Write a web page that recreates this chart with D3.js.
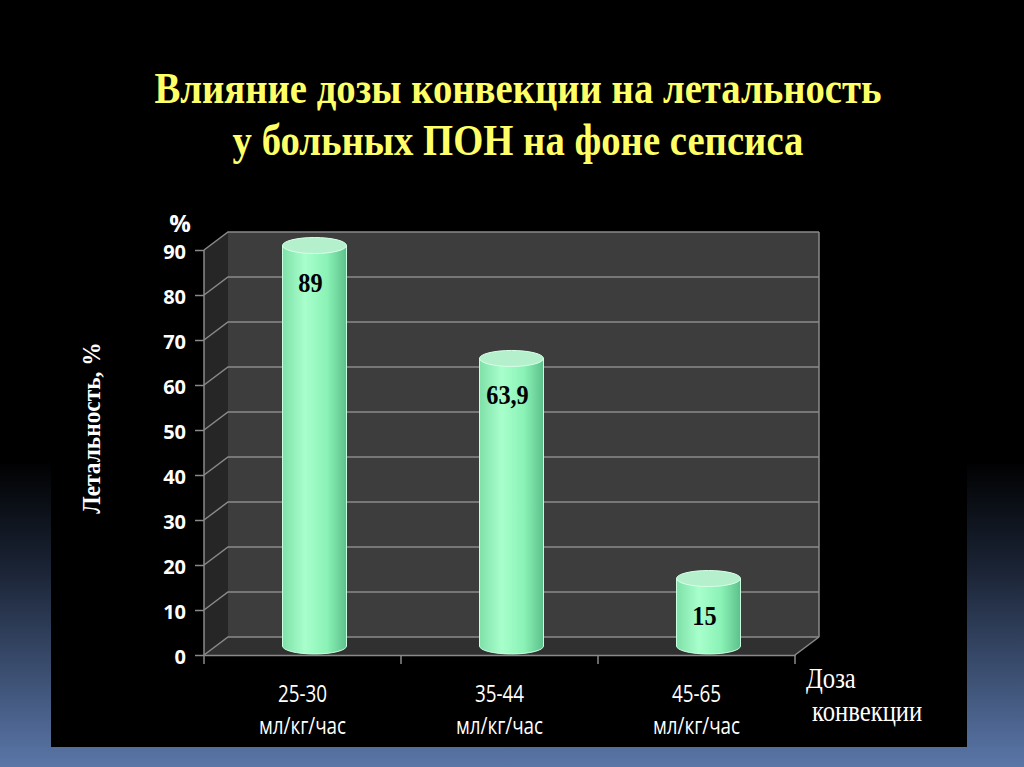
<!DOCTYPE html><html><head><meta charset="utf-8"><script src="https://d3js.org/d3.v7.min.js"></script>
<style>body{margin:0;background:#000}</style></head><body><script>
const categories=[["25-30","мл/кг/час"],["35-44","мл/кг/час"],["45-65","мл/кг/час"]];
const values=[89,63.9,15];
const valueLabels=["89","63,9","15"];
const ticks=[0,10,20,30,40,50,60,70,80,90];
const W=1024,H=767;
const svg=d3.select("body").append("svg").attr("width",W).attr("height",H);
const defs=svg.append("defs");
const bg=defs.append("linearGradient").attr("id","bg").attr("x1",0).attr("y1",0).attr("x2",0).attr("y2",1);
[[0,"#000"],[0.6,"#000"],[0.75,"#1c2638"],[1,"#5a76a8"]].forEach(s=>bg.append("stop").attr("offset",s[0]).attr("stop-color",s[1]));
const cg=defs.append("linearGradient").attr("id","cyl");
[[0,"#7fe0a8"],[0.35,"#a8ffcc"],[0.7,"#8af2b6"],[1,"#5cc08a"]].forEach(s=>cg.append("stop").attr("offset",s[0]).attr("stop-color",s[1]));
svg.append("rect").attr("width",W).attr("height",H).attr("fill","url(#bg)");
svg.append("rect").attr("x",51).attr("y",0).attr("width",916).attr("height",747).attr("fill","#000");
// condensed text helper: scales horizontally around anchor
function ctext(x0,y0,str,size,family,weight,fill,sx,anchor){
  return svg.append("text").attr("transform",`translate(${x0},${y0}) scale(${sx},1)`).attr("text-anchor",anchor||"middle")
    .attr("font-family",family).attr("font-weight",weight).attr("font-size",size).attr("fill",fill).text(str);
}
const dx=24,dy=-18;
const y=d3.scaleLinear().domain([0,90]).range([655,250]);
const x=d3.scaleBand().domain(d3.range(3)).range([204,795]);
const x0=204,x1=795;
svg.append("polygon").attr("points",[[x0+dx,y(0)+dy],[x1+dx,y(0)+dy],[x1+dx,y(90)+dy],[x0+dx,y(90)+dy]].join(" ")).attr("fill","#3d3d3d");
svg.append("polygon").attr("points",[[x0,y(0)],[x0+dx,y(0)+dy],[x0+dx,y(90)+dy],[x0,y(90)]].join(" ")).attr("fill","#262626");
svg.append("polygon").attr("points",[[x0,y(0)],[x1,y(0)],[x1+dx,y(0)+dy],[x0+dx,y(0)+dy]].join(" ")).attr("fill","#303030");
const g=svg.append("g").attr("stroke","#8a8a8a").attr("stroke-width",1.5).attr("fill","none");
ticks.forEach(t=>g.append("polyline").attr("points",[[x0,y(t)],[x0+dx,y(t)+dy],[x1+dx,y(t)+dy]].join(" ")));
g.append("line").attr("x1",x0).attr("x2",x0).attr("y1",y(0)).attr("y2",y(90));
g.append("line").attr("x1",x1).attr("x2",x1+dx).attr("y1",y(0)).attr("y2",y(0)+dy);
g.append("line").attr("x1",x1+dx).attr("x2",x1+dx).attr("y1",y(0)+dy).attr("y2",y(90)+dy);
const ax=svg.append("g").attr("transform",`translate(${x0},0)`).call(d3.axisLeft(y).tickValues(ticks).tickSize(9).tickPadding(9));
ax.select(".domain").remove();
ax.selectAll("line").attr("stroke","#8a8a8a").attr("stroke-width",1.5);
ax.selectAll("text").attr("fill","#fff").attr("font-family","'Open Sans',sans-serif").attr("font-weight","bold").attr("font-size",20).attr("dy","0.4em");
const bx=svg.append("g").attr("transform",`translate(0,${y(0)})`).call(d3.axisBottom(x).tickValues([]).tickSize(0));
bx.select(".domain").attr("stroke","#8a8a8a").attr("stroke-width",1.5);
[0,1,2,3].forEach(i=>svg.append("line").attr("x1",x0+i*x.step()).attr("x2",x0+i*x.step()).attr("y1",y(0)).attr("y2",y(0)+9).attr("stroke","#8a8a8a").attr("stroke-width",1.5));
const ym=d3.scaleLinear().domain([0,90]).range([y(0)+dy/2,y(90)+dy/2]);
const bw=64,ry=8;
values.forEach((v,i)=>{
  const cx=x(i)+x.bandwidth()/2+dx/2, l=cx-bw/2, top=ym(v), bot=ym(0);
  svg.append("path").attr("d",`M${l},${top}L${l},${bot}A${bw/2},${ry} 0 0 0 ${l+bw},${bot}L${l+bw},${top}Z`).attr("fill","url(#cyl)").attr("stroke","#c8ffe0").attr("stroke-width",1);
  svg.append("ellipse").attr("cx",cx).attr("cy",top).attr("rx",bw/2).attr("ry",ry).attr("fill","#b4f0cc").attr("stroke","#d8ffe8");
  ctext(cx-4,top+46,valueLabels[i],27,"'Liberation Serif',serif","bold","#000",0.9);
  categories[i].forEach((s,j)=>ctext(x(i)+x.bandwidth()/2,702+j*32,s,23,"'Open Sans',sans-serif","normal","#fff",0.82));
});
const serif="'Liberation Serif',serif";
ctext(518,103,"Влияние дозы конвекции на летальность",44,serif,"bold","#ffff66",0.88);
ctext(518,155,"у больных ПОН на фоне сепсиса",44,serif,"bold","#ffff66",0.88);
ctext(180,232,"%",24,"'Open Sans',sans-serif","bold","#fff",1);
svg.append("text").attr("transform","translate(100,428) rotate(-90) scale(0.9,1)").attr("text-anchor","middle").attr("font-family",serif).attr("font-weight","bold").attr("font-size",26).attr("fill","#fff").text("Летальность, %");
ctext(806,688,"Доза",29,serif,"normal","#fff",0.85,"start");
ctext(812,721,"конвекции",29,serif,"normal","#fff",0.85,"start");
</script></body></html>
